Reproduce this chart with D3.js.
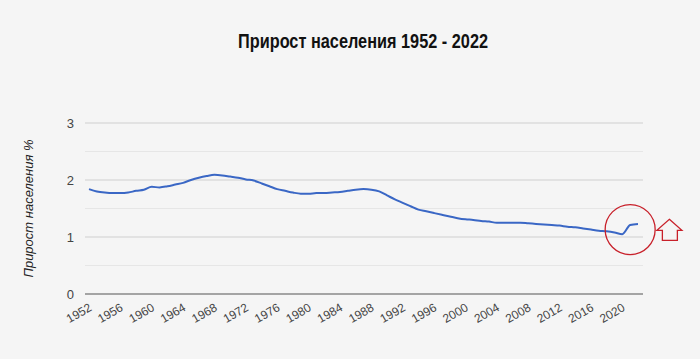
<!DOCTYPE html>
<html>
<head>
<meta charset="utf-8">
<script src="https://cdnjs.cloudflare.com/ajax/libs/d3/7.8.5/d3.min.js"></script>
<style>
  html, body { margin: 0; padding: 0; background: #f5f5f5; }
  svg { display: block; }
</style>
</head>
<body>
<svg id="chart" width="700" height="359"></svg>
<script>
const title = "Прирост населения 1952 - 2022";
const yTitle = "Прирост населения %";
const years = d3.range(1952, 2023);
const growth = [
  1.84, 1.80, 1.78, 1.77, 1.77, 1.78, 1.81, 1.83, 1.88, 1.87,
  1.89, 1.92, 1.95, 2.00, 2.04, 2.07, 2.09, 2.08, 2.06, 2.04,
  2.01, 1.99, 1.94, 1.89, 1.84, 1.81, 1.78, 1.76, 1.76, 1.77,
  1.77, 1.78, 1.79, 1.81, 1.83, 1.84, 1.83, 1.80, 1.73, 1.66,
  1.60, 1.54, 1.48, 1.45, 1.42, 1.39, 1.36, 1.33, 1.31, 1.30,
  1.28, 1.27, 1.25, 1.25, 1.25, 1.25, 1.24, 1.23, 1.22, 1.21,
  1.20, 1.18, 1.17, 1.15, 1.13, 1.11, 1.10, 1.08, 1.05, 1.21,
  1.23
];
const xTicks = d3.range(1952, 2021, 4);
const yMajor = [0, 1, 2, 3];
const yMinor = [0.5, 1.5, 2.5];

const svg = d3.select("#chart");
const W = 700, H = 359;
const plot = { left: 85, right: 643, top: 123, bottom: 294 };

const x = d3.scaleLinear().domain([1952, 2022]).range([89, 638]);
const y = d3.scaleLinear().domain([0, 3]).range([plot.bottom, plot.top]);

svg.append("rect").attr("width", W).attr("height", H).attr("fill", "#f5f5f5");

// title
svg.append("text")
  .attr("x", 363).attr("y", 48)
  .attr("text-anchor", "middle")
  .attr("font-family", "Liberation Sans, Arial, sans-serif")
  .attr("font-weight", "bold")
  .attr("font-size", 20)
  .attr("fill", "#111")
  .attr("textLength", 250)
  .attr("lengthAdjust", "spacingAndGlyphs")
  .text(title);

// minor gridlines
svg.append("g").selectAll("line").data(yMinor).join("line")
  .attr("x1", plot.left).attr("x2", plot.right)
  .attr("y1", d => y(d)).attr("y2", d => y(d))
  .attr("stroke", "#e6e6e6").attr("stroke-width", 1);

// major gridlines
svg.append("g").selectAll("line").data(yMajor.filter(d => d !== 0)).join("line")
  .attr("x1", plot.left).attr("x2", plot.right)
  .attr("y1", d => y(d)).attr("y2", d => y(d))
  .attr("stroke", "#cfcfcf").attr("stroke-width", 1);

// baseline
svg.append("line")
  .attr("x1", plot.left).attr("x2", plot.right)
  .attr("y1", y(0)).attr("y2", y(0))
  .attr("stroke", "#555").attr("stroke-width", 1.2);

// y labels
const yAxis = d3.axisLeft(y).tickValues(yMajor).tickSize(0).tickPadding(0).tickFormat(d3.format("d"));
const yg = svg.append("g").attr("transform", `translate(74,0)`).call(yAxis);
yg.select(".domain").remove();
yg.selectAll("text")
  .attr("font-family", "Liberation Sans, Arial, sans-serif")
  .attr("font-size", 13)
  .attr("fill", "#444");

// y title
svg.append("text")
  .attr("transform", `translate(33,${(plot.top + plot.bottom) / 2 + 0}) rotate(-90)`)
  .attr("text-anchor", "middle")
  .attr("font-family", "Liberation Sans, Arial, sans-serif")
  .attr("font-style", "italic")
  .attr("font-size", 13)
  .attr("fill", "#222")
  .text(yTitle);

// x labels
const xAxis = d3.axisBottom(x).tickValues(xTicks).tickSize(0).tickPadding(0).tickFormat(d3.format("d"));
const xg = svg.append("g").attr("transform", `translate(0,${plot.bottom})`).call(xAxis);
xg.select(".domain").remove();
xg.selectAll(".tick text")
  .attr("font-family", "Liberation Sans, Arial, sans-serif")
  .attr("font-size", 12)
  .attr("fill", "#444")
  .attr("text-anchor", "end")
  .attr("dy", 0)
  .attr("transform", "translate(3,16) rotate(-30)");

// line
const line = d3.line()
  .x((d, i) => x(years[i]))
  .y(d => y(d))
  .curve(d3.curveMonotoneX);
svg.append("path")
  .datum(growth)
  .attr("d", line)
  .attr("fill", "none")
  .attr("stroke", "#3a67c5")
  .attr("stroke-width", 2)
  .attr("stroke-linejoin", "round");

// red circle annotation
svg.append("circle")
  .attr("cx", x(2021)).attr("cy", y(1.13))
  .attr("r", 25)
  .attr("fill", "none")
  .attr("stroke", "#c8202a")
  .attr("stroke-width", 1.3);

// up arrow annotation
const ax = x(2026), ay = y(1.31);
const arrowPts = [
  [ax, ay], [ax + 12.5, ay + 11], [ax + 8, ay + 11], [ax + 8, ay + 21],
  [ax - 7, ay + 21], [ax - 7, ay + 11], [ax - 12.5, ay + 11]
];
svg.append("polygon")
  .attr("points", arrowPts.map(p => p.join(",")).join(" "))
  .attr("fill", "none")
  .attr("stroke", "#c8202a")
  .attr("stroke-width", 1.3)
  .attr("stroke-linejoin", "miter");
</script>
</body>
</html>
